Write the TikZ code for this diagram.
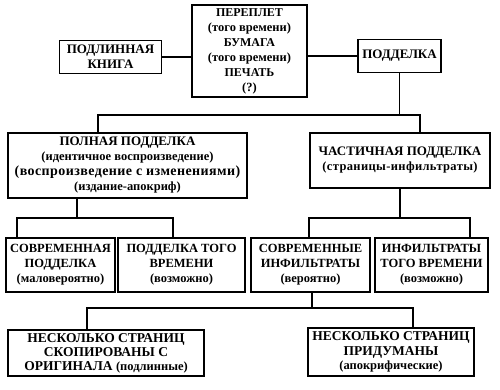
\documentclass[tikz,border=0pt]{standalone}
\usepackage{fontspec}
\setmainfont{Liberation Serif}
\begin{document}
\begin{tikzpicture}[x=1pt,y=-1pt,
  box/.style={draw,line width=1.8pt,align=center,inner sep=1pt,font=\fontsize{13}{15}\selectfont\bfseries},
  con/.style={line width=1.8pt}]
\useasboundingbox (0,0) rectangle (500,390);
\newcommand{\pp}[1]{{\fontsize{12.5}{15}\selectfont\bfseries #1}}
\node[box,minimum width=102pt,minimum height=33pt] (real) at (110.5,57) {ПОДЛИННАЯ\\КНИГА};
\node[box,minimum width=115pt,minimum height=92pt,font=\fontsize{12}{15}\selectfont\bfseries] (mat) at (249.5,51) {ПЕРЕПЛЕТ\\\pp{(того времени)}\\БУМАГА\\\pp{(того времени)}\\ПЕЧАТЬ\\\pp{(?)}};
\node[box,minimum width=83pt,minimum height=33pt] (fake) at (399.5,56) {ПОДДЕЛКА};
\node[box,minimum width=239pt,minimum height=65pt] (full) at (127.5,165.5) {ПОЛНАЯ ПОДДЕЛКА\\\pp{(идентичное воспроизведение)}\\{\fontsize{14}{15}\selectfont\addfontfeature{LetterSpace=3}(воспроизведение с изменениями)}\\\pp{(издание-апокриф)}};
\node[box,minimum width=180pt,minimum height=55pt] (part) at (400,160.5) {ЧАСТИЧНАЯ ПОДДЕЛКА\\\pp{\addfontfeature{LetterSpace=3}(страницы-инфильтраты)}};
\node[box,minimum width=109pt,minimum height=54pt,font=\fontsize{12.5}{15}\selectfont\bfseries] (s1) at (60.5,265) {СОВРЕМЕННАЯ\\ПОДДЕЛКА\\\pp{(маловероятно)}};
\node[box,minimum width=127pt,minimum height=54pt,font=\fontsize{12.5}{15}\selectfont\bfseries] (s2) at (181.5,265) {ПОДДЕЛКА ТОГО\\ВРЕМЕНИ\\\pp{(возможно)}};
\node[box,minimum width=119pt,minimum height=54pt,font=\fontsize{12.5}{15}\selectfont\bfseries] (s3) at (310.5,265) {СОВРЕМЕННЫЕ\\ИНФИЛЬТРАТЫ\\\pp{(вероятно)}};
\node[box,minimum width=113pt,minimum height=54pt,font=\fontsize{12.5}{15}\selectfont\bfseries] (s4) at (431.5,265) {ИНФИЛЬТРАТЫ\\ТОГО ВРЕМЕНИ\\\pp{(возможно)}};
\node[box,minimum width=196pt,minimum height=46pt,font=\fontsize{13.5}{14}\selectfont\bfseries] (b1) at (106,353) {НЕСКОЛЬКО СТРАНИЦ\\СКОПИРОВАНЫ С\\ОРИГИНАЛА \pp{(подлинные)}};
\node[box,minimum width=166pt,minimum height=48pt,font=\fontsize{13.5}{14.5}\selectfont\bfseries] (b2) at (391,352) {НЕСКОЛЬКО СТРАНИЦ\\ПРИДУМАНЫ\\\pp{(апокрифические)}};
\coordinate (fa) at (98,115);
\coordinate (pa) at (420,115);
\coordinate (j2) at (77,218);
\coordinate (l1) at (17,218);
\coordinate (l2) at (173,218);
\coordinate (r1) at (309,218);
\coordinate (r2) at (470,218);
\coordinate (j3) at (312,308);
\coordinate (m1) at (87,308);
\coordinate (m2) at (413,308);
\draw[con] (real.east) -- (real.east -| mat.west);
\draw[con] (fake.west -| mat.east) -- (fake.west);
\draw[con] (fake.south) -- (fake.south |- pa);
\draw[con] (full.north -| fa) |- (pa) -- (pa |- part.north);
\draw[con] (full.south -| j2) -- (j2);
\draw[con] (s1.north -| l1) |- (l2) -- (l2 |- s2.north);
\draw[con] (part.south) -- (part.south |- r1);
\draw[con] (s3.north -| r1) |- (r2) -- (r2 |- s4.north);
\draw[con] (s3.south -| j3) -- (j3);
\draw[con] (b1.north -| m1) |- (m2) -- (m2 |- b2.north);
\end{tikzpicture}
\end{document}
